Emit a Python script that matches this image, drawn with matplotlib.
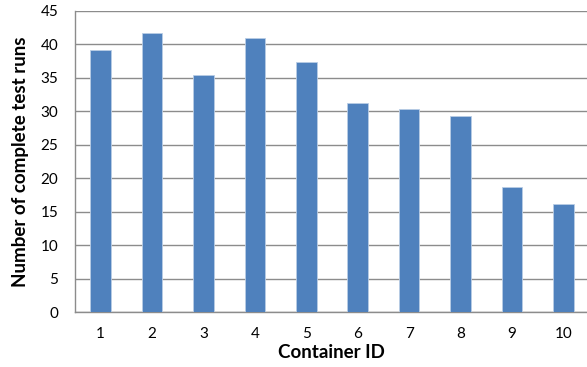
import matplotlib
matplotlib.use("Agg")
import matplotlib.pyplot as plt
import numpy as np

containers = [1, 2, 3, 4, 5, 6, 7, 8, 9, 10]
runs = [39.1, 41.7, 35.5, 40.9, 37.4, 31.3, 30.3, 29.3, 18.7, 16.1]
yticks = [0, 5, 10, 15, 20, 25, 30, 35, 40, 45]

plt.rcParams['font.family'] = ['Lato', 'DejaVu Sans']

fig = plt.figure(figsize=(5.87, 3.67), dpi=100)
ax = fig.add_axes([75 / 587, 55 / 367, 1 - 75 / 587, 301 / 367])

ax.bar(containers, runs, width=0.4, color='#4F81BD', edgecolor='#B9CDE5',
       linewidth=0.6, zorder=3)

ax.set_xlim(0.5, 10.46)
ax.set_ylim(0, 45)
ax.set_yticks(yticks)
ax.set_xticks(containers)
ax.yaxis.grid(True, color='#8C8C8C', linewidth=1.0, zorder=0)

for side in ['top', 'right']:
    ax.spines[side].set_visible(False)
for side in ['left', 'bottom']:
    ax.spines[side].set_color('#8C8C8C')
    ax.spines[side].set_linewidth(1.0)

ax.tick_params(axis='x', length=0, pad=11, labelsize=11)
ax.tick_params(axis='y', length=0, pad=12, labelsize=11)

ax.set_xlabel('Container ID', fontsize=13.5, fontweight='bold', labelpad=2)
ax.set_ylabel('Number of complete test runs', fontsize=13.5, fontweight='bold', labelpad=8)

fig.savefig('out.png', dpi=100)
